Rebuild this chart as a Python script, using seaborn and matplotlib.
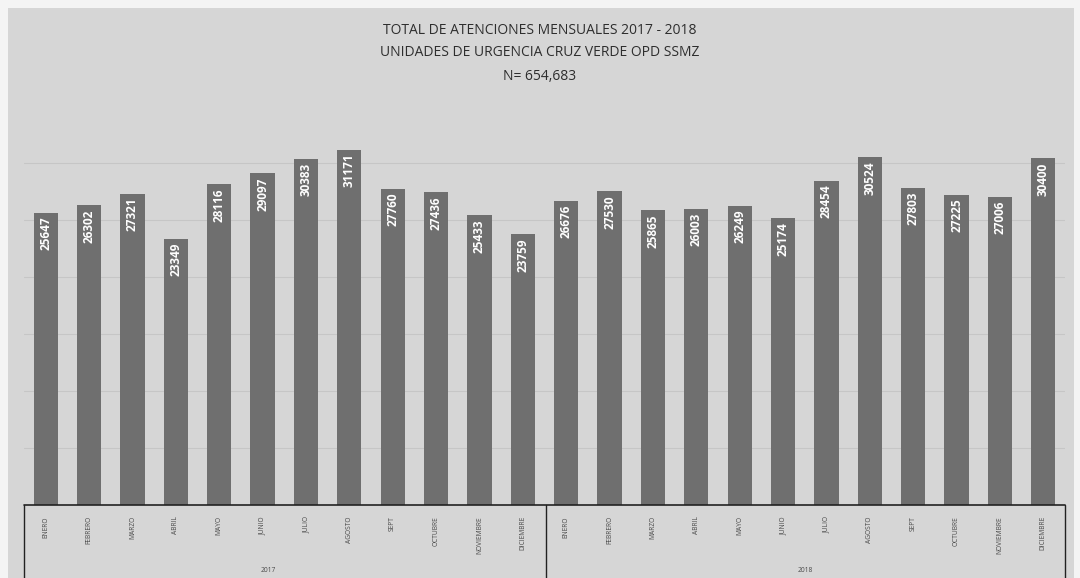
import matplotlib
matplotlib.use("Agg")
import matplotlib.pyplot as plt
import seaborn as sns
import pandas as pd
from matplotlib.patches import Rectangle
from matplotlib.lines import Line2D

months = ["ENERO", "FEBRERO", "MARZO", "ABRIL", "MAYO", "JUNIO", "JULIO",
          "AGOSTO", "SEPT", "OCTUBRE", "NOVIEMBRE", "DICIEMBRE"]
years = ["2017", "2018"]
values_2017 = [25647, 26302, 27321, 23349, 28116, 29097, 30383, 31171, 27760, 27436, 25433, 23759]
values_2018 = [26676, 27530, 25865, 26003, 26249, 25174, 28454, 30524, 27803, 27225, 27006, 30400]
title_lines = ["TOTAL DE ATENCIONES MENSUALES 2017 - 2018",
               "UNIDADES DE URGENCIA CRUZ VERDE OPD SSMZ",
               "N= 654,683"]

df = pd.DataFrame({
    "key": [f"{m} {y}" for y in years for m in months],
    "month": months * 2,
    "value": values_2017 + values_2018,
})

sns.set_theme(style="white")
plt.rcParams["font.family"] = ["Open Sans", "DejaVu Sans"]

W, H = 1080, 578
fig = plt.figure(figsize=(W / 100, H / 100), dpi=100)
fig.patch.set_facecolor("#f4f4f4")
fig.patches.append(Rectangle((8 / W, 0), (1074 - 8) / W, (570 - 0) / H,
                             transform=fig.transFigure, facecolor="#d6d6d6",
                             edgecolor="none", zorder=-2))

left, right, bottom_px, top_px = 24, 1065, 505, 106
ax = fig.add_axes([left / W, (H - bottom_px) / H, (right - left) / W, (bottom_px - top_px) / H])
ax.set_facecolor("none")

sns.barplot(data=df, x="key", y="value", color="#6f6f6f", width=0.56,
            saturation=1, ax=ax, zorder=2, linewidth=0, edgecolor="none")
ax.set_ylim(0, 35000)
ax.set_xlim(-0.5, 23.5)

for y in range(5000, 35000, 5000):
    ax.axhline(y, color="#c6c6c6", lw=0.8, zorder=1)

for p, v in zip(ax.patches, df["value"]):
    ax.text(p.get_x() + p.get_width() / 2, p.get_height() - 350, str(v),
            rotation=90, ha="center", va="top", color="white",
            fontsize=8.5, fontweight="bold", zorder=3)

ax.set_xticks(range(24))
ax.set_xticklabels(df["month"], rotation=90, fontsize=4.8, color="#4a4a4a")
ax.tick_params(axis="x", length=0, pad=8)
ax.set_yticks([])
ax.set_xlabel("")
ax.set_ylabel("")
for s in ax.spines.values():
    s.set_visible(False)

# category table box below the axis
lc = "#222222"
box_top = (H - bottom_px) / H
fig.lines.append(Line2D([left / W, right / W], [box_top, box_top], transform=fig.transFigure, color=lc, lw=1.2))
for xp in (left, 546, right):
    fig.lines.append(Line2D([xp / W, xp / W], [0, box_top], transform=fig.transFigure, color=lc, lw=1.0))
fig.text(268 / W, 4 / H, years[0], fontsize=4.8, color="#4a4a4a", ha="center", va="bottom")
fig.text(805 / W, 4 / H, years[1], fontsize=4.8, color="#4a4a4a", ha="center", va="bottom")

for line, yy in zip(title_lines, [30, 53, 77]):
    fig.text(540 / W, (H - yy) / H, line, ha="center", va="center",
             fontsize=10, color="#2e2e2e")

fig.savefig("out.png", dpi=100, facecolor=fig.get_facecolor())
